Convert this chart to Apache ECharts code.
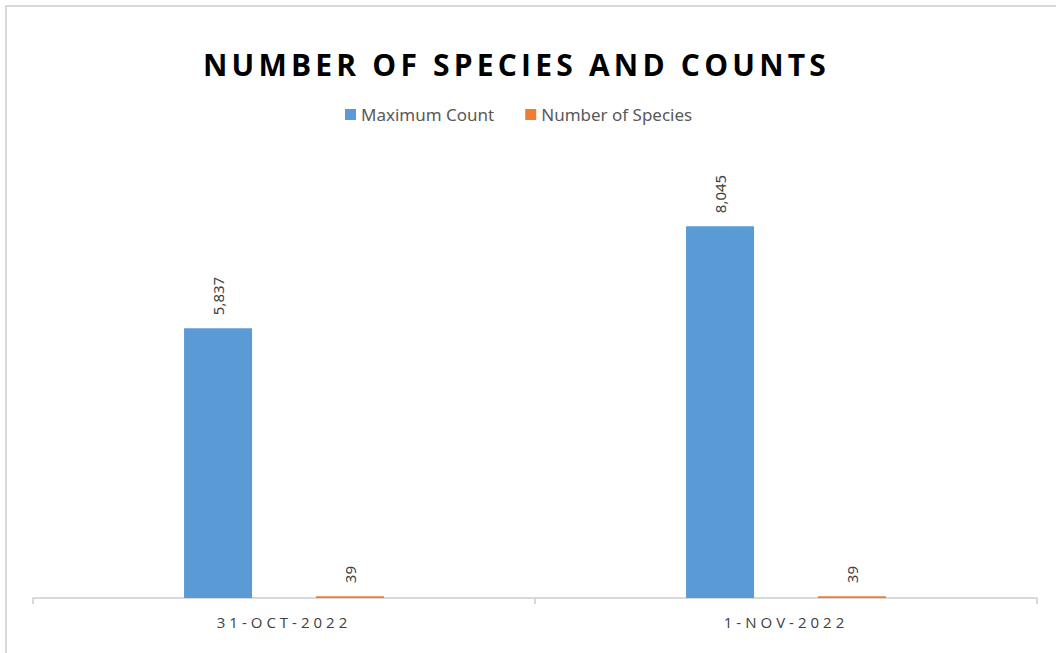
<!DOCTYPE html>
<html>
<head>
<meta charset="utf-8">
<script src="https://cdn.jsdelivr.net/npm/echarts@6/dist/echarts.min.js"></script>
<style>
  html, body { margin: 0; padding: 0; background: #fff; }
  #frame {
    position: absolute; left: 5px; top: 5px; width: 1100px; height: 700px;
    border-left: 2px solid #d9d9d9; border-top: 2px solid #d9d9d9;
    pointer-events: none;
  }
  #chart { position: absolute; left: 0; top: 0; width: 1056px; height: 653px; }
  /* spaced caps for title and category labels */
  #chart text[style*="Open Sans"] { letter-spacing: 4px; }
  #chart text[style*="bold"] { letter-spacing: 4.2px; }
</style>
</head>
<body>
<div id="chart"></div>
<div id="frame"></div>
<script>
const categories = ["31-OCT-2022", "1-NOV-2022"];
const maximumCount = [5837, 8045];
const numberOfSpecies = [39, 39];
const seriesNames = ["Maximum Count", "Number of Species"];

const labelStyle = {
  show: true,
  position: "top",
  rotate: 90,
  align: "left",
  verticalAlign: "middle",
  distance: 13,
  fontFamily: "Noto Sans",
  fontSize: 15,
  color: "#404040",
  formatter: p => p.value.toLocaleString("en-US")
};

let chart = echarts.init(document.getElementById("chart"), null, { renderer: "svg" });
chart.setOption({
  animation: false,
  title: {
    text: "NUMBER OF SPECIES AND COUNTS",
    left: 198,
    top: 44,
    textStyle: {
      fontFamily: "Open Sans",
      fontWeight: "bold",
      fontSize: 30,
      color: "#000"
    }
  },
  legend: {
    data: seriesNames,
    top: 101,
    left: 340,
    icon: "rect",
    itemWidth: 11,
    itemHeight: 11,
    itemGap: 31,
    textStyle: { fontFamily: "Noto Sans", fontSize: 17, color: "#595959" }
  },
  grid: { left: 33, right: 19, top: 182, bottom: 55 },
  xAxis: {
    type: "category",
    data: categories,
    axisLine: { lineStyle: { color: "#d9d9d9", width: 2 } },
    axisTick: { show: true, length: 6, lineStyle: { color: "#d9d9d9", width: 2 } },
    axisLabel: { fontFamily: "Open Sans", fontSize: 15, color: "#404040", margin: 16 }
  },
  yAxis: {
    type: "value",
    show: false,
    min: 0,
    max: 9000,
    splitLine: { show: false }
  },
  series: [
    {
      name: seriesNames[0],
      type: "bar",
      data: maximumCount,
      itemStyle: { color: "#5b9bd5" },
      barWidth: 68,
      barGap: "94%",
      label: labelStyle
    },
    {
      name: seriesNames[1],
      type: "bar",
      data: numberOfSpecies,
      itemStyle: { color: "#ed7d31" },
      barWidth: 68,
      label: labelStyle
    }
  ]
});
</script>
</body>
</html>
